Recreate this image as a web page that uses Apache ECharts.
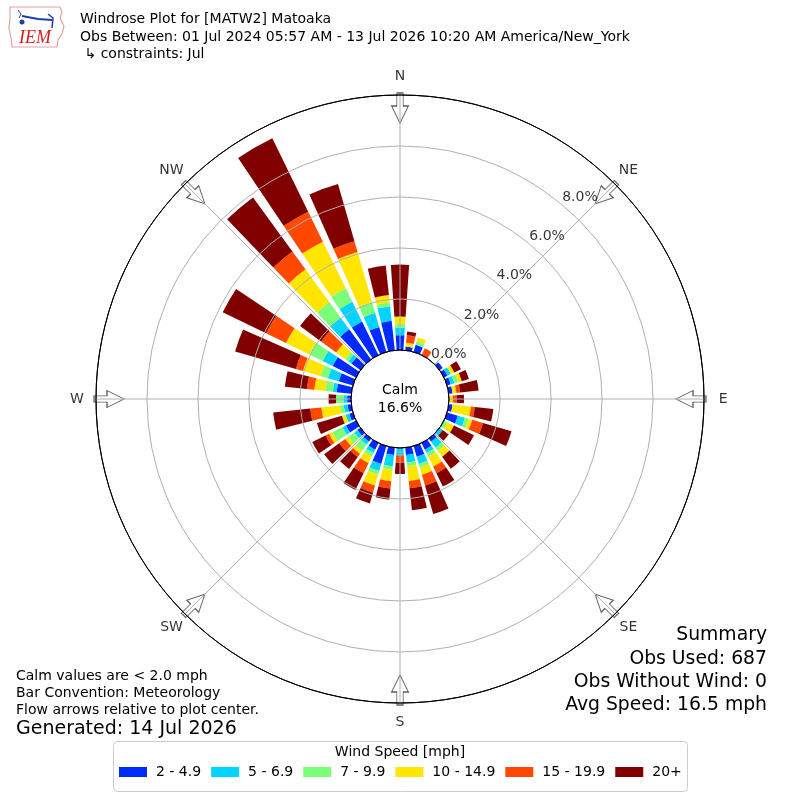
<!DOCTYPE html>
<html><head><meta charset="utf-8">
<script src="https://cdn.jsdelivr.net/npm/echarts@6/dist/echarts.min.js"></script>
<style>html,body{margin:0;padding:0;background:#fff}#c{width:800px;height:800px}</style>
</head><body><div id="c"></div>
<script>
// ---- data ----
const directions = [0,10,20,30,40,50,60,70,80,90,100,110,120,130,140,150,160,170,180,190,200,210,220,230,240,250,260,270,280,290,300,310,320,330,340,350];
const speedBins = ['2 - 4.9','5 - 6.9','7 - 9.9','10 - 14.9','15 - 19.9','20+'];
const speed_2_49   = [0.58,0.15,0.29,0,0,0.15,0.15,0.15,0.15,0,0.15,0.44,0,0,0.15,0.29,0.44,0.29,0,0.29,0.73,0.29,0.15,0.15,0.44,0.15,0.15,0.15,0.58,0.58,1.02,0.44,1.46,1.46,1.02,1.16];
const speed_5_69   = [0.29,0,0,0,0,0,0.15,0.15,0,0,0,0.29,0,0.15,0.29,0.15,0.29,0.29,0.29,0.44,0.29,0.15,0.15,0.15,0.15,0.15,0.15,0.15,0.15,0.44,0.44,0.15,0.58,0.87,0.58,0.58];
const speed_7_99   = [0.15,0,0.15,0,0,0,0,0.15,0,0,0,0.15,0.15,0,0.15,0.15,0.15,0.15,0,0.15,0.15,0.15,0.29,0.29,0.44,0,0.15,0.29,0.29,0.29,0.58,0.15,0.73,0.58,0.44,0.15];
const speed_10_149 = [0.29,0.15,0.15,0,0,0,0.15,0.15,0.15,0.15,0.73,0.15,0.29,0,0.29,0.44,0.29,0.58,0,0.44,0.44,0.29,0.15,0.15,0.15,0.15,0.73,0,0.44,0.73,1.02,0.44,1.6,2.04,2.04,0.29];
const speed_15_199 = [0,0.29,0,0.29,0,0,0,0,0.15,0.15,0.15,0.44,0,0,0,0.29,0.44,0.29,0.29,0.29,0.29,0.44,0.15,0.29,0.15,0,0.44,0,0.29,0.29,0.87,0.73,0.87,1.31,0.44,0];
const speed_20p    = [2.04,0.15,0,0,0,0,0.29,0.29,0.73,0.29,0.73,1.16,0.87,0.29,0.58,0.58,1.16,0.87,0.44,0.44,0.44,0.73,0.58,0.73,0.58,1.02,1.46,0.29,0.87,2.48,1.89,1.02,2.62,3.2,2.33,1.16];
const speedData = [speed_2_49, speed_5_69, speed_7_99, speed_10_149, speed_15_199, speed_20p];
const ringTicks = [0,2,4,6,8];
const ringLabels = ['0.0%','2.0%','4.0%','6.0%','8.0%'];
const compassAngles = [0,45,90,135,180,225,270,315];
const compassLabels = ['N','NE','E','SE','S','SW','W','NW'];
const calmPct = '16.6%';
const titleLines = ['Windrose Plot for [MATW2] Matoaka','Obs Between: 01 Jul 2024 05:57 AM - 13 Jul 2026 10:20 AM America/New_York',' \u21b3 constraints: Jul'];
const noteLines = ['Calm values are < 2.0 mph','Bar Convention: Meteorology','Flow arrows relative to plot center.'];
const generated = 'Generated: 14 Jul 2026';
const summaryLines = ['Summary','Obs Used: 687','Obs Without Wind: 0','Avg Speed: 16.5 mph'];
const legendTitle = 'Wind Speed [mph]';

// ---- style ----
const colors = ['#002aff','#00d4ff','#7bff7b','#ffe600','#ff4900','#800000'];
const FONT = '"DejaVu Sans"';
const FS = 14, FSL = 19, FSS = 18.8;
const CX = 400, CY = 399, R0 = 49, R1 = 304;
const RMAX = 10;
const arrowR = 9.49, compassLabelR = 10.75, ringLabelAngle = 40;

function txt(x, y, text, size, align, extra) {
  return Object.assign({
    type: 'text', x: x, y: y, silent: true,
    style: { text: text, fill: '#000', font: 'normal ' + size + 'px ' + FONT,
      align: align, verticalAlign: 'middle', textAlign: align, textVerticalAlign: 'middle' }
  }, extra || {});
}

const chart = echarts.init(document.getElementById('c'), null, {renderer: 'canvas'});

const barSeries = speedBins.map((name, i) => ({
  type: 'bar', coordinateSystem: 'polar', polarIndex: 0, name: name, stack: 'ws',
  data: speedData[i], barCategoryGap: '22%', itemStyle: { color: colors[i] }, z: 2, silent: true
}));

const graphics = [];
// logo
graphics.push({ type: 'polygon', silent: true,
  shape: { points: [[10,7],[60,7],[62,12],[60,18],[64,26],[62,34],[58,40],[57,47],[12,47],[11,38],[9,28],[10,18]] },
  style: { fill: '#fff', stroke: '#e6a2a2', lineWidth: 1.2 } });
graphics.push({ type: 'polyline', silent: true, shape: { points: [[22,16],[38,19],[52,20]] }, style: { stroke: '#1f3fa0', lineWidth: 2, fill: null } });
graphics.push({ type: 'polyline', silent: true, shape: { points: [[48,14],[53,18],[52,28]] }, style: { stroke: '#1f3fa0', lineWidth: 1.5, fill: null } });
graphics.push({ type: 'circle', silent: true, shape: { cx: 22, cy: 22, r: 2.5 }, style: { fill: '#1f3fa0' } });
graphics.push({ type: 'polyline', silent: true, shape: { points: [[18,10],[21,14],[19,18]] }, style: { stroke: '#1f3fa0', lineWidth: 1, fill: null } });
graphics.push({ type: 'text', x: 35, y: 38, silent: true,
  style: { text: 'IEM', fill: '#d42020', font: 'italic 18px "Liberation Serif"', align: 'center', verticalAlign: 'middle', textAlign: 'center', textVerticalAlign: 'middle' } });
// title
graphics.push(txt(80, 19, titleLines[0], FS, 'left'));
graphics.push(txt(80, 37, titleLines[1], FS, 'left'));
graphics.push(txt(80, 54, titleLines[2], FS, 'left'));
// calm
graphics.push(txt(CX, 390, 'Calm', FS, 'center'));
graphics.push(txt(CX, 408, calmPct, FS, 'center'));
// notes
graphics.push(txt(16, 676, noteLines[0], FS, 'left'));
graphics.push(txt(16, 693, noteLines[1], FS, 'left'));
graphics.push(txt(16, 710, noteLines[2], FS, 'left'));
graphics.push(txt(16, 729, generated, FSL, 'left'));
// summary
graphics.push(txt(767, 635, summaryLines[0], FSS, 'right'));
graphics.push(txt(767, 659, summaryLines[1], FSS, 'right'));
graphics.push(txt(767, 682, summaryLines[2], FSS, 'right'));
graphics.push(txt(767, 705, summaryLines[3], FSS, 'right'));
// legend frame
graphics.push({ type: 'rect', silent: true, z: -1, shape: { x: 113.5, y: 741.5, width: 574, height: 50, r: 4 },
  style: { fill: '#fff', stroke: '#cccccc', lineWidth: 1 } });
graphics.push(txt(400, 752, legendTitle, FS, 'center'));

const option = {
  animation: false,
  backgroundColor: '#fff',
  polar: [
    { center: [CX, CY], radius: [R0, R1] },
    { center: [CX, CY], radius: [R0, R1] }
  ],
  angleAxis: [
    { polarIndex: 0, type: 'category', data: directions.map(String), startAngle: 95, clockwise: true, boundaryGap: true, show: false },
    { polarIndex: 1, type: 'value', min: 0, max: 360, interval: 45, startAngle: 90, clockwise: true, z: 5,
      axisLine: { show: true, lineStyle: { color: '#000', width: 1 } },
      axisTick: { show: false }, axisLabel: { show: false },
      splitLine: { show: true, lineStyle: { color: '#b0b0b0', width: 1 } } }
  ],
  radiusAxis: [
    { polarIndex: 0, type: 'value', min: 0, max: RMAX, show: false },
    { polarIndex: 1, type: 'value', min: 0, max: RMAX, interval: 2, z: 5,
      axisLine: { show: false }, axisTick: { show: false }, axisLabel: { show: false },
      splitLine: { show: true, lineStyle: { color: ['#000','#b0b0b0','#b0b0b0','#b0b0b0','#b0b0b0','#000'], width: 1 } } }
  ],
  legend: {
    data: speedBins, left: 119, top: 765, padding: 0, icon: 'rect', itemWidth: 28, itemHeight: 10, itemGap: 10,
    selectedMode: false,
    textStyle: { fontFamily: 'DejaVu Sans', fontSize: FS, color: '#000', padding: [0, 0, 0, 4] }
  },
  graphic: { elements: graphics },
  series: barSeries.concat([
    { type: 'scatter', coordinateSystem: 'polar', polarIndex: 1, clip: false, silent: true, z: 3,
      symbol: 'path://M5,0 L11,0 L11,13 L16,13 L8,30 L0,13 L5,13 Z', symbolSize: [17, 30],
      itemStyle: { color: '#fff', borderColor: '#333', borderWidth: 1 },
      data: compassAngles.map(a => ({ value: [arrowR, a], symbolRotate: -a })) },
    { type: 'scatter', coordinateSystem: 'polar', polarIndex: 1, clip: false, silent: true, z: 6,
      symbolSize: 1, itemStyle: { color: 'rgba(0,0,0,0)' },
      label: { show: true, position: 'inside', formatter: p => compassLabels[p.dataIndex],
        fontFamily: 'DejaVu Sans', fontSize: FS, color: '#000' },
      data: compassAngles.map(a => [compassLabelR, a]) },
    { type: 'scatter', coordinateSystem: 'polar', polarIndex: 1, clip: false, silent: true, z: 6,
      symbolSize: 1, itemStyle: { color: 'rgba(0,0,0,0)' },
      label: { show: true, position: [0, 0], align: 'left', verticalAlign: 'bottom',
        formatter: p => ringLabels[p.dataIndex], fontFamily: 'DejaVu Sans', fontSize: FS, color: '#000' },
      data: ringTicks.map(t => [t, ringLabelAngle]) }
  ])
};
chart.setOption(option);
</script></body></html>
